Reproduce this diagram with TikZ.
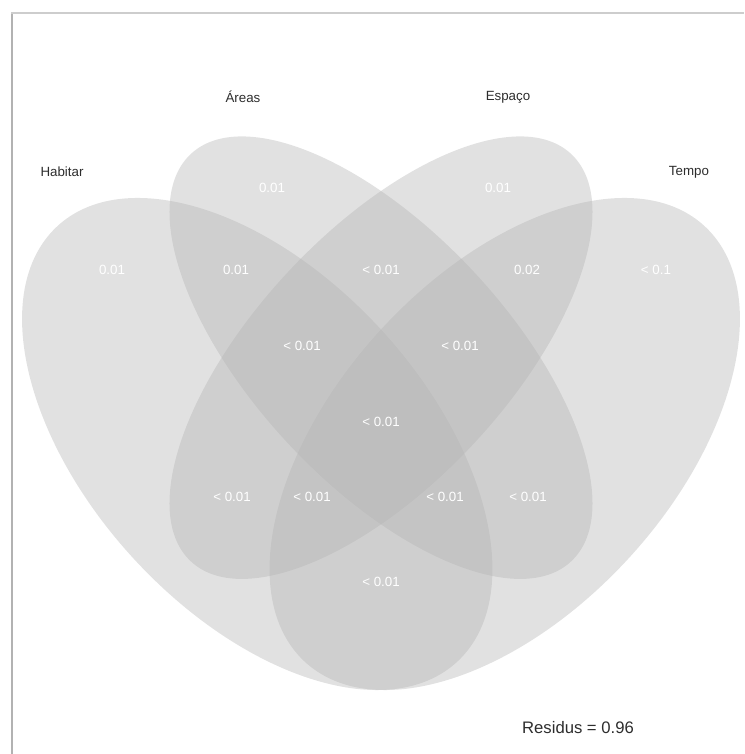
\documentclass[tikz,border=0pt]{standalone}
\usepackage{fontspec}
\setmainfont{Liberation Sans}
\begin{document}
\begin{tikzpicture}[x=0.75pt,y=0.75pt,
  setfill/.style={fill={rgb,255:red,180;green,180;blue,180}, fill opacity=0.4},
  setname/.style={text={rgb,255:red,45;green,45;blue,45}, font=\fontsize{10}{12}\selectfont},
  count/.style={text=white, font=\fontsize{10}{12}\selectfont}]
\useasboundingbox (0,0) rectangle (744,754);
% frame edges
\draw[line width=2.2pt, color={rgb,255:red,178;green,178;blue,178}] (12,0) -- (12,741);
\draw[line width=2pt, color={rgb,255:red,205;green,205;blue,205}] (11,741) -- (744,741);
% the four sets, in unit coordinates
\begin{scope}[shift={(-31.5,-95.6)}, xscale=825, yscale=863]
  \fill[setfill, rotate around={-45:(0.35,0.47)}] (0.35,0.47) ellipse [x radius=0.35, y radius=0.2];
  \fill[setfill, rotate around={-45:(0.5,0.57)}] (0.5,0.57) ellipse [x radius=0.33, y radius=0.15];
  \fill[setfill, rotate around={45:(0.5,0.57)}] (0.5,0.57) ellipse [x radius=0.33, y radius=0.15];
  \fill[setfill, rotate around={45:(0.65,0.47)}] (0.65,0.47) ellipse [x radius=0.35, y radius=0.2];
\end{scope}
% set names
\node[setname] (nH) at (62,582) {Habitar};
\node[setname] (nA) at (243,657) {Áreas};
\node[setname] (nE) at (508,657) {Espaço};
\node[setname] (nT) at (689,582) {Tempo};
% region values
\node[count] (r1) at (112,484) {0.01};
\node[count] (r2) at (272,566) {0.01};
\node[count] (r3) at (498,566) {0.01};
\node[count] (r4) at (656,484) {< 0.1};
\node[count] (r5) at (236,484) {0.01};
\node[count] (r6) at (381,484) {< 0.01};
\node[count] (r7) at (527,484) {0.02};
\node[count] (r8) at (302,408) {< 0.01};
\node[count] (r9) at (460,408) {< 0.01};
\node[count] (r10) at (381,332) {< 0.01};
\node[count] (r11) at (232,257) {< 0.01};
\node[count] (r12) at (312,257) {< 0.01};
\node[count] (r13) at (445,257) {< 0.01};
\node[count] (r14) at (528,257) {< 0.01};
\node[count] (r15) at (381,172) {< 0.01};
% residue
\node[setname, font=\fontsize{12.5}{14}\selectfont] (res) at (578,26) {Residus = 0.96};
\end{tikzpicture}
\end{document}
